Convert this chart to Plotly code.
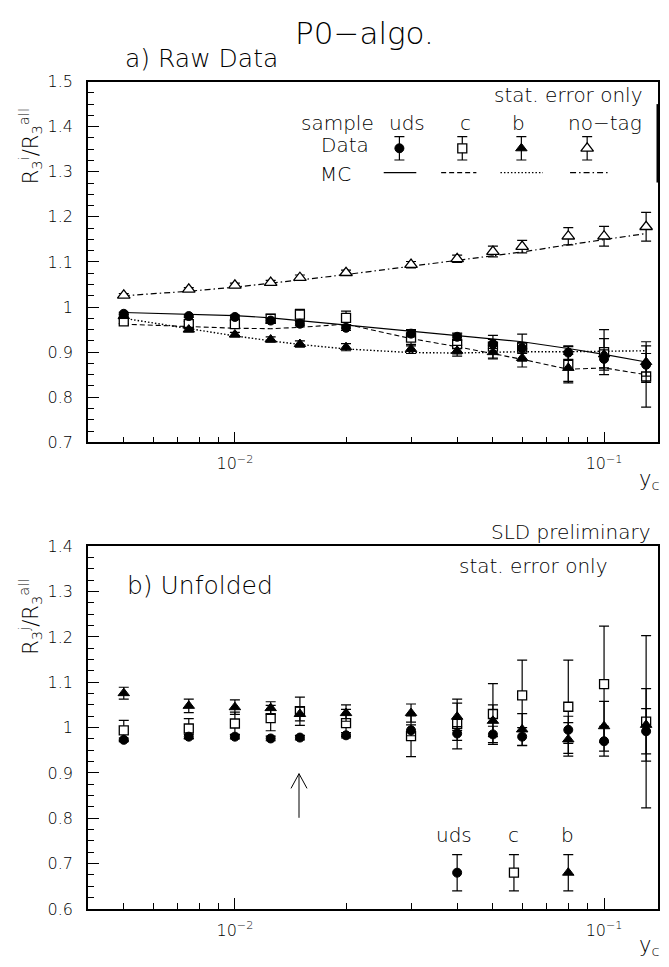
import math
import plotly.graph_objects as go

W, H = 669, 967
FONT = "DejaVu Sans"
WEIGHT = 200

# jet resolution bins
yc = [0.005, 0.0075, 0.01, 0.0125, 0.015, 0.02, 0.03, 0.04, 0.05, 0.06, 0.08, 0.1, 0.13]

# ---- a) raw data: R3(tagged)/R3(all) ----
raw_uds = [0.985, 0.980, 0.978, 0.970, 0.963, 0.954, 0.941, 0.934, 0.918, 0.909, 0.899, 0.885, 0.872]
raw_uds_err = [0.003, 0.003, 0.004, 0.005, 0.005, 0.006, 0.007, 0.008, 0.010, 0.012, 0.015, 0.020, 0.025]
raw_c = [0.968, 0.962, 0.962, 0.974, 0.983, 0.976, 0.932, 0.918, 0.912, 0.910, 0.872, 0.900, 0.846]
raw_c_err = [0.005, 0.006, 0.008, 0.010, 0.012, 0.015, 0.018, 0.022, 0.025, 0.030, 0.040, 0.050, 0.068]
raw_b = [0.980, 0.950, 0.939, 0.928, 0.918, 0.911, 0.907, 0.903, 0.900, 0.887, 0.865, 0.895, 0.878]
raw_b_err = [0.004, 0.005, 0.005, 0.006, 0.007, 0.008, 0.010, 0.012, 0.015, 0.020, 0.030, 0.035, 0.045]
raw_notag = [1.026, 1.039, 1.048, 1.054, 1.065, 1.076, 1.094, 1.107, 1.123, 1.134, 1.157, 1.157, 1.178]
raw_notag_err = [0.004, 0.004, 0.005, 0.005, 0.006, 0.006, 0.007, 0.008, 0.012, 0.014, 0.019, 0.022, 0.032]

# MC expectations
mc_uds = [0.988, 0.984, 0.981, 0.976, 0.970, 0.960, 0.946, 0.937, 0.930, 0.923, 0.908, 0.895, 0.878]
mc_c = [0.962, 0.957, 0.953, 0.952, 0.955, 0.962, 0.930, 0.912, 0.897, 0.884, 0.862, 0.865, 0.850]
mc_b = [0.975, 0.952, 0.936, 0.925, 0.917, 0.907, 0.899, 0.898, 0.900, 0.901, 0.901, 0.902, 0.903]
mc_notag = [1.025, 1.035, 1.044, 1.052, 1.060, 1.072, 1.090, 1.103, 1.113, 1.122, 1.138, 1.150, 1.163]

# ---- b) unfolded ----
unf_uds = [0.973, 0.980, 0.980, 0.976, 0.978, 0.983, 0.994, 0.987, 0.985, 0.980, 0.995, 0.970, 0.992]
unf_uds_err = [0.004, 0.005, 0.005, 0.005, 0.005, 0.006, 0.012, 0.015, 0.018, 0.020, 0.030, 0.033, 0.050]
unf_c = [0.994, 0.998, 1.009, 1.021, 1.036, 1.010, 0.981, 1.008, 1.030, 1.071, 1.046, 1.096, 1.013]
unf_c_err = [0.022, 0.022, 0.025, 0.028, 0.031, 0.030, 0.045, 0.055, 0.067, 0.078, 0.103, 0.128, 0.190]
unf_b = [1.076, 1.048, 1.045, 1.043, 1.030, 1.032, 1.032, 1.024, 1.015, 0.996, 0.974, 1.003, 1.006]
unf_b_err = [0.013, 0.015, 0.016, 0.014, 0.015, 0.018, 0.020, 0.030, 0.035, 0.035, 0.037, 0.055, 0.080]

# legend keys
key_raw_x = {"uds": 0.0279, "c": 0.0413, "b": 0.0597, "notag": 0.0900}
key_raw_y, key_raw_err = 1.352, 0.026
key_mc_x = {"uds": (0.0253, 0.031), "c": (0.0362, 0.0451), "b": (0.0524, 0.0683), "notag": (0.0809, 0.1039)}
key_mc_y = 1.298
key_unf_x = {"uds": 0.040, "c": 0.057, "b": 0.080}
key_unf_y, key_unf_err = 0.680, 0.040


def px(x):
    return x / W


def py(y):
    return 1 - y / H


MARK = {
    "uds": dict(symbol="circle", size=9, color="black", line=dict(color="black", width=1)),
    "c": dict(symbol="square", size=9, color="white", line=dict(color="black", width=1.3)),
    "b": dict(symbol="triangle-up", size=10, color="black", line=dict(color="black", width=1)),
    "notag": dict(symbol="triangle-up", size=11, color="white", line=dict(color="black", width=1.3)),
}
DASH = {"uds": "solid", "c": "5px,3px", "b": "1.5px,2px", "notag": "6px,3px,1.5px,3px"}
LW = {"uds": 1.1, "c": 1.1, "b": 1.4, "notag": 1.2}

fig = go.Figure()


def points(x, y, err, key, xa, ya):
    fig.add_trace(go.Scatter(
        x=x, y=y, mode="markers", xaxis=xa, yaxis=ya, showlegend=False,
        marker=MARK[key],
        error_y=dict(type="data", array=err, color="black", thickness=1.2, width=5),
    ))


def curve(x, y, key, xa, ya):
    fig.add_trace(go.Scatter(
        x=x, y=y, mode="lines", xaxis=xa, yaxis=ya, showlegend=False,
        line=dict(color="black", width=LW[key], dash=DASH[key]),
    ))


# panel a
curve(yc, mc_notag, "notag", "x", "y")
curve(yc, mc_c, "c", "x", "y")
curve(yc, mc_b, "b", "x", "y")
curve(yc, mc_uds, "uds", "x", "y")
points(yc, raw_notag, raw_notag_err, "notag", "x", "y")
points(yc, raw_c, raw_c_err, "c", "x", "y")
points(yc, raw_uds, raw_uds_err, "uds", "x", "y")
points(yc, raw_b, raw_b_err, "b", "x", "y")

for k in ["uds", "c", "b", "notag"]:
    points([key_raw_x[k]], [key_raw_y], [key_raw_err], k, "x", "y")
    curve(list(key_mc_x[k]), [key_mc_y, key_mc_y], k, "x", "y")

# panel b
points(yc, unf_c, unf_c_err, "c", "x2", "y2")
points(yc, unf_uds, unf_uds_err, "uds", "x2", "y2")
points(yc, unf_b, unf_b_err, "b", "x2", "y2")
for k in ["uds", "c", "b"]:
    points([key_unf_x[k]], [key_unf_y], [key_unf_err], k, "x2", "y2")

tickfont = dict(family=FONT, size=16, color="black", weight=WEIGHT)
minor_x = [0.005, 0.006, 0.007, 0.008, 0.009, 0.02, 0.03, 0.04, 0.05, 0.06, 0.07, 0.08, 0.09]
xcommon = dict(
    type="log", range=[math.log10(0.004), math.log10(0.14)],
    domain=[px(88), px(658)],
    tickmode="array", tickvals=[0.01, 0.1],
    ticktext=["10<sup>−2</sup>", "10<sup>−1</sup>"],
    ticks="inside", ticklen=11, tickwidth=1, tickcolor="black",
    minor=dict(tickmode="array", tickvals=minor_x, ticks="inside", ticklen=6,
               tickwidth=1, tickcolor="black"),
    showline=True, linecolor="black", linewidth=1.5, mirror=True,
    showgrid=False, zeroline=False, ticklabelstandoff=6,
    tickfont=tickfont,
)
ycommon = dict(
    dtick=0.1, ticks="inside", ticklen=11, tickwidth=1, tickcolor="black",
    showline=True, linecolor="black", linewidth=1.5, mirror=True,
    showgrid=False, zeroline=False, ticklabelstandoff=10,
    tickfont=tickfont,
)

fig.update_layout(
    width=W, height=H, margin=dict(l=0, r=0, t=0, b=0),
    paper_bgcolor="white", plot_bgcolor="white",
    xaxis=dict(xcommon, anchor="y"),
    yaxis=dict(ycommon, range=[0.7, 1.5], tick0=0.7, domain=[py(442), py(74)], anchor="x",
               minor=dict(dtick=0.025, tick0=0.7, ticks="inside", ticklen=6, tickwidth=1, tickcolor="black")),
    xaxis2=dict(xcommon, anchor="y2"),
    yaxis2=dict(ycommon, range=[0.6, 1.4], tick0=0.6, domain=[py(918), py(548)], anchor="x2",
                minor=dict(dtick=0.025, tick0=0.6, ticks="inside", ticklen=6, tickwidth=1, tickcolor="black")),
)


def text(s, x, y, size, xanchor="center", angle=0):
    fig.add_annotation(text=s, x=px(x), y=py(y), xref="paper", yref="paper",
                       xanchor=xanchor, yanchor="middle", showarrow=False, textangle=angle,
                       font=dict(family=FONT, size=size, color="black", weight=WEIGHT))


text("P0−algo.", 365, 24, 31)
text("a) Raw Data", 123, 50, 25, "left")
text("stat. error only", 645, 88, 20, "right")
text("sample", 337, 116, 20)
text("uds", 407, 116, 20)
text("c", 465, 116, 20)
text("b", 518, 116, 20)
text("no−tag", 605, 116, 20)
text("Data", 345, 139, 20)
text("MC", 335, 168, 20)
text("R<sub>3</sub><sup>i</sup>/R<sub>3</sub><sup>all</sup>", 30, 140, 21, angle=-90)
text("y<sub>c</sub>", 662, 480, 21, "right")

text("SLD preliminary", 653, 533, 20, "right")
text("stat. error only", 610, 568, 20, "right")
text("b) Unfolded", 125, 588, 25, "left")
text("uds", 454, 843, 20)
text("c", 513, 843, 20)
text("b", 567, 843, 20)
text("R<sub>3</sub><sup>j</sup>/R<sub>3</sub><sup>all</sup>", 30, 620, 21, angle=-90)
text("y<sub>c</sub>", 662, 956, 21, "right")

# arrow marking the chosen y_c
fig.add_shape(type="line", xref="paper", yref="paper", x0=px(299), x1=px(299), y0=py(825), y1=py(780),
              line=dict(color="black", width=1))
fig.add_shape(type="path", xref="paper", yref="paper",
              path=f"M {px(291)} {py(795)} L {px(299)} {py(780)} L {px(307)} {py(795)}",
              line=dict(color="black", width=1))
# thick segment on right frame of panel a
fig.add_shape(type="line", xref="paper", yref="paper", x0=px(658), x1=px(658), y0=py(97), y1=py(177),
              line=dict(color="black", width=3))

fig.write_html("out.html")
